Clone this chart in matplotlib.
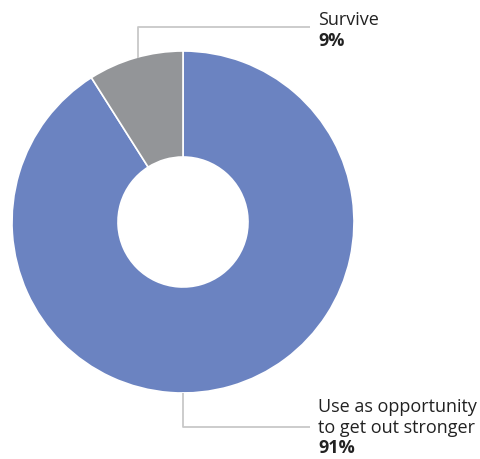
import numpy as np
import matplotlib
matplotlib.use("Agg")
import matplotlib.pyplot as plt

labels = [["Use as opportunity", "to get out stronger"], ["Survive"]]
values = [91, 9]
pct_labels = ["91%", "9%"]
colors = ["#6b83c1", "#939598"]

W, H = 481, 459
fig = plt.figure(figsize=(W / 100, H / 100), dpi=100)
ax = fig.add_axes([0, 0, 1, 1])
ax.axis("off")

cx, cy = 183, H - 222
R, r_in = 171, 65
ax.pie(values, colors=colors, startangle=90, counterclock=False,
       center=(cx, cy), radius=R,
       wedgeprops=dict(width=R - r_in, edgecolor="white", linewidth=1.2))
ax.set_xlim(0, W)
ax.set_ylim(0, H)
ax.set_aspect("auto")

line_kw = dict(color="#c8c8c8", linewidth=1.3, solid_capstyle="butt")
font = ["Open Sans", "DejaVu Sans"]
tc = "#222222"
fs = 13


def label_block(x, baselines, lines, pct):
    for yb, t in zip(baselines[:-1], lines):
        ax.text(x, H - yb, t, ha="left", va="baseline", fontsize=fs, family=font, color=tc)
    ax.text(x, H - baselines[-1], pct, ha="left", va="baseline", fontsize=fs,
            family=font, color=tc, fontweight="bold")


# Survive leader
ax.plot([138, 138, 310], [H - 58, H - 27, H - 27], **line_kw)
label_block(318, [25, 46], labels[1], pct_labels[1])

# Opportunity leader
ax.plot([183, 183, 310], [cy - R, H - 427, H - 427], **line_kw)
label_block(318, [412, 433, 453], labels[0], pct_labels[0])

fig.savefig("out.png", dpi=100, facecolor="white")
